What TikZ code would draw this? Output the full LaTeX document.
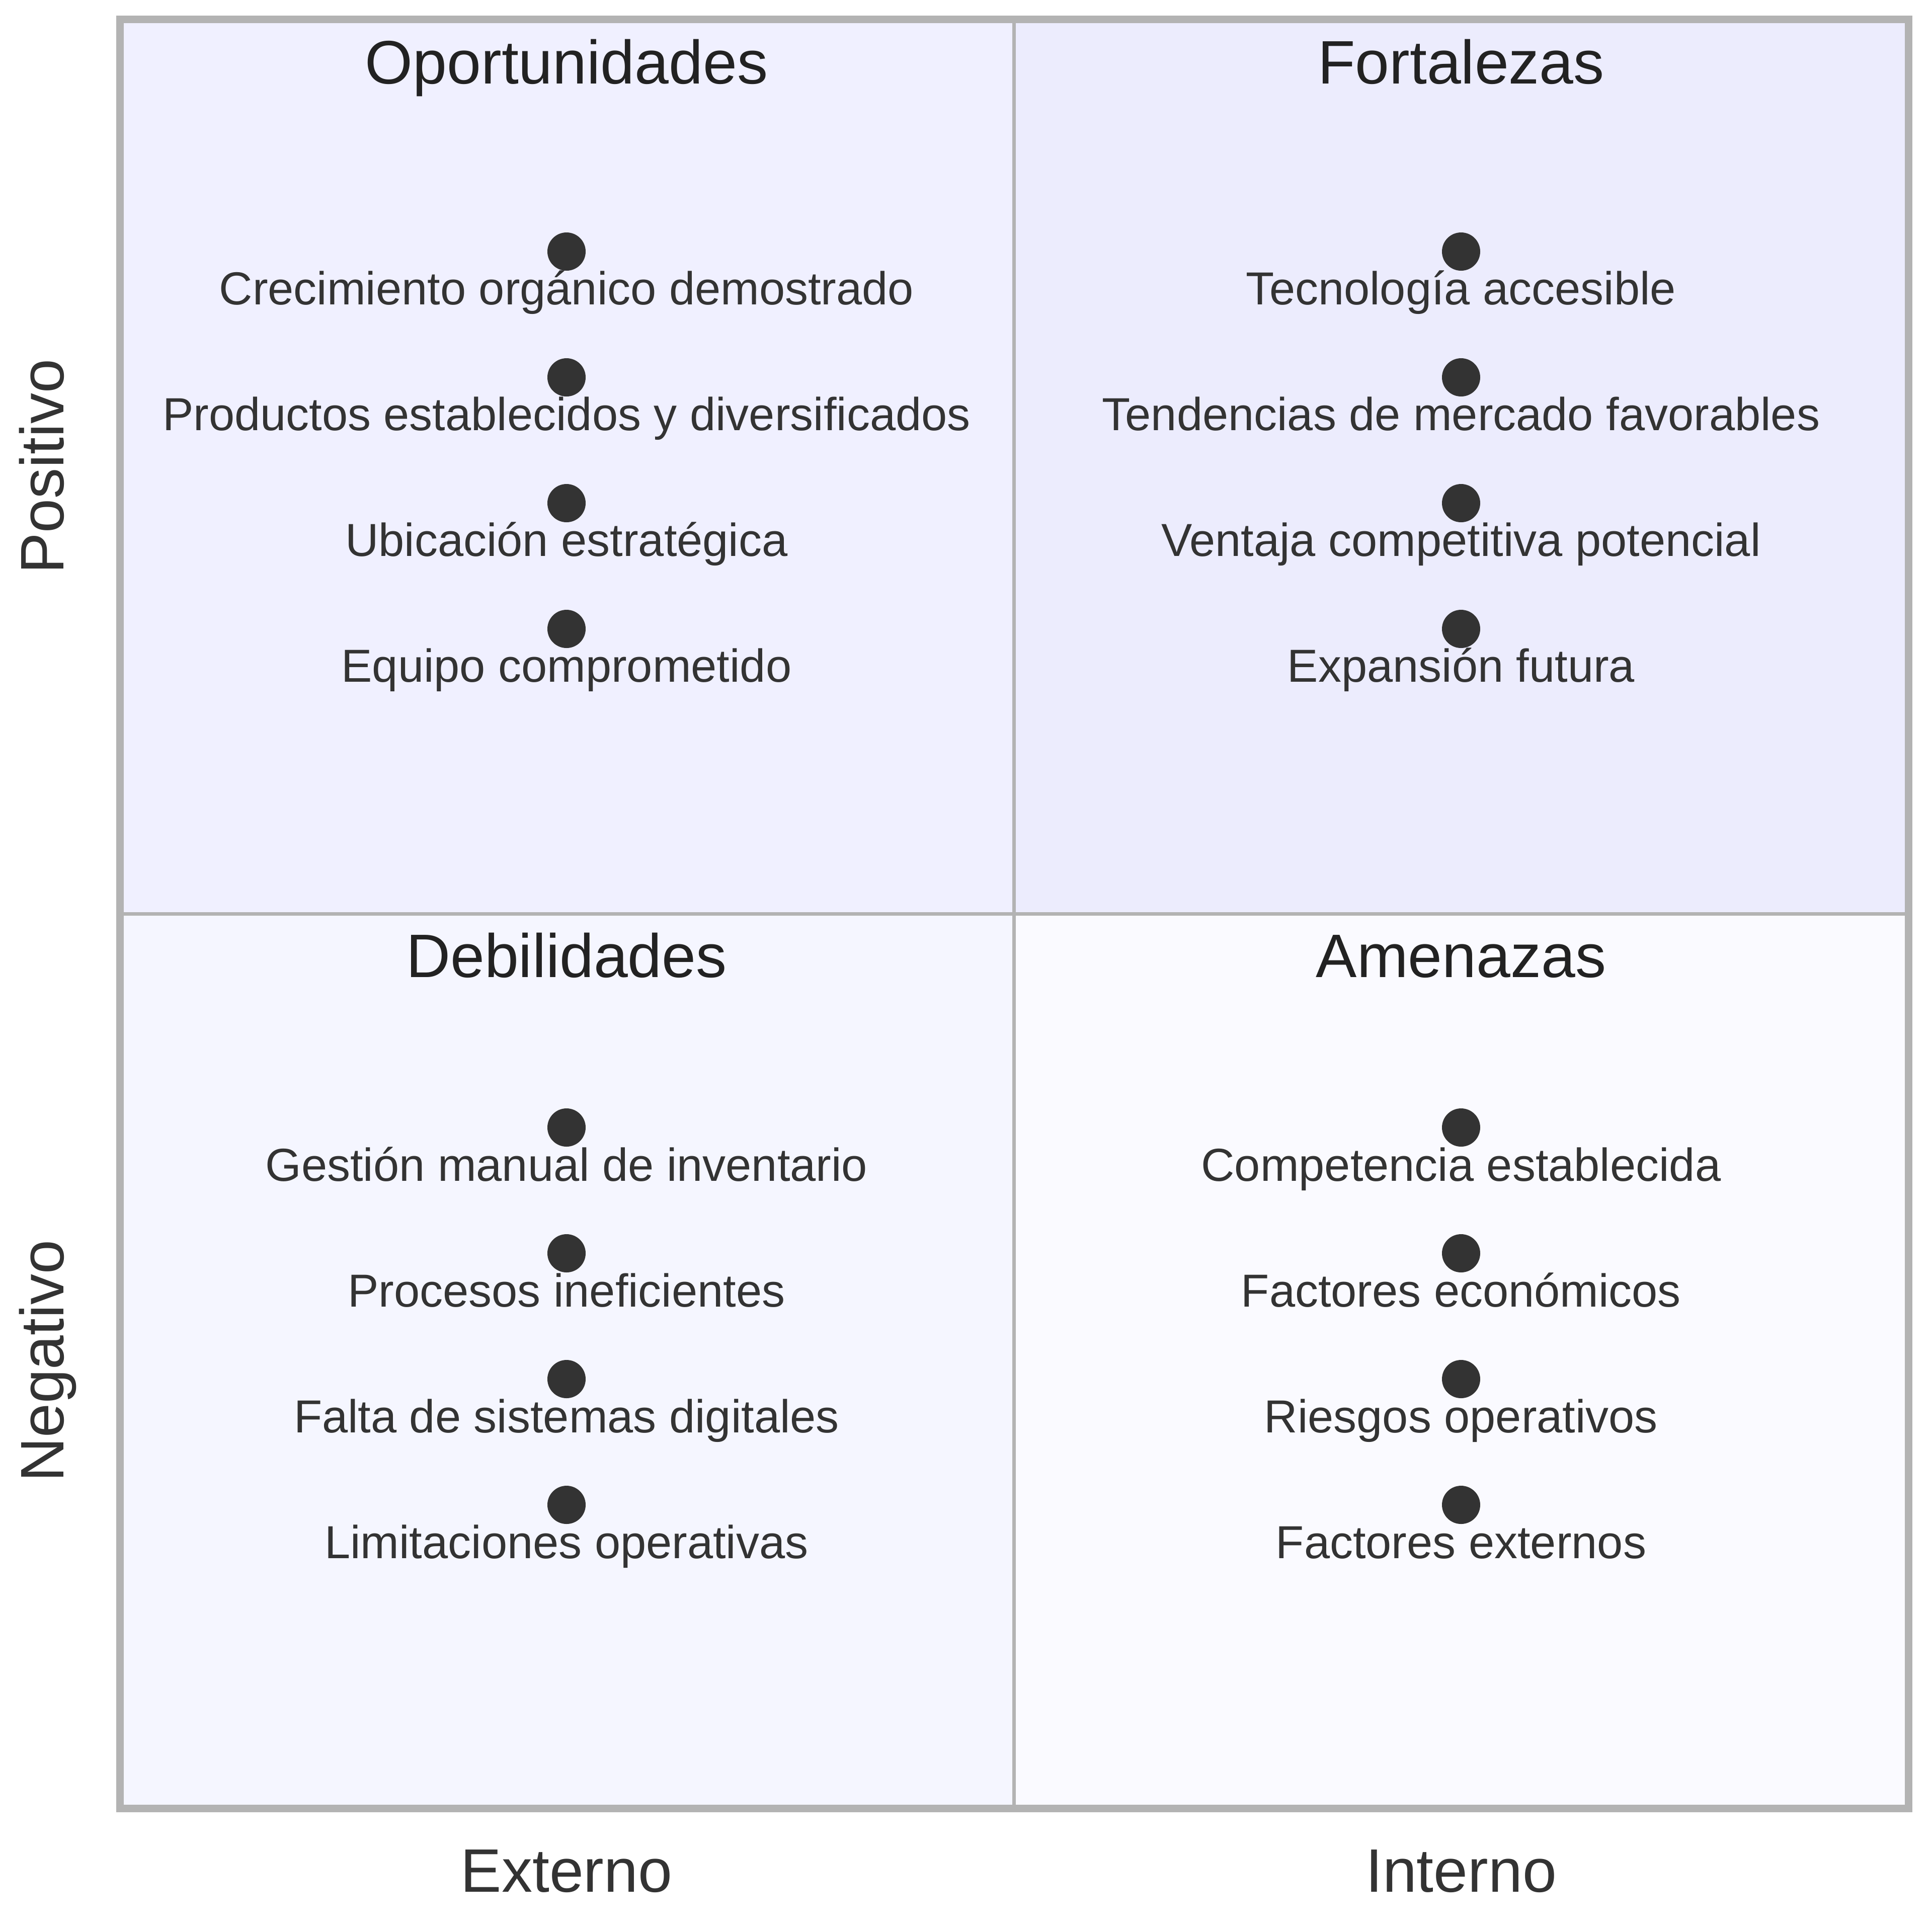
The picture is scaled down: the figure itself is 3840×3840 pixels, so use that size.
\documentclass[tikz,border=0pt]{standalone}
\usepackage{fontspec}
\setmainfont{Liberation Sans}
\usepackage{tikz}
\usetikzlibrary{positioning}
\usepackage{xcolor}
\definecolor{swgray}{HTML}{B3B3B3}
\definecolor{swtext}{HTML}{333333}
\definecolor{swtitle}{HTML}{222222}
\definecolor{oppfill}{HTML}{F0F0FF}
\definecolor{fortfill}{HTML}{ECECFD}
\definecolor{debfill}{HTML}{F5F6FF}
\definecolor{amefill}{HTML}{FAFAFF}
\tikzstyle{dot} = [circle,fill=swtext,inner sep=0pt,minimum size=7.6pt]
\tikzstyle{item} = [anchor=base,inner sep=0pt,text=swtext,font=\fontsize{9.2}{11}\selectfont]
\tikzstyle{quadtitle} = [anchor=base,inner sep=0pt,text=swtitle,font=\fontsize{12.2}{14}\selectfont]
\tikzstyle{axislabel} = [anchor=base,inner sep=0pt,text=swtext,font=\fontsize{12.2}{14}\selectfont]

\begin{document}
\begin{tikzpicture}[x=0.1pt,y=-0.1pt]
\useasboundingbox (0,0) rectangle (3840,3840);
% Quadrants
\fill[oppfill] (238,38) rectangle (2015,1816);
\fill[fortfill] (2015,38) rectangle (3793,1816);
\fill[debfill] (238,1816) rectangle (2015,3594);
\fill[amefill] (2015,1816) rectangle (3793,3594);
\draw[swgray, line width=0.7pt] (2015,38) -- (2015,3594);
\draw[swgray, line width=0.7pt] (238,1816) -- (3793,1816);
\draw[swgray, line width=1.5pt] (238,38) rectangle (3793,3594);

% Titles
\node[quadtitle] (opp) at (1126,166) {Oportunidades};
\node[quadtitle] (fort) at (2904,166) {Fortalezas};
\node[quadtitle] (deb) at (1126,1942) {Debilidades};
\node[quadtitle] (ame) at (2904,1942) {Amenazas};

% Oportunidades
\node[dot] (o1) at (1126,500) {};
\node[item] (o1t) at (1126,605) {Crecimiento orgánico demostrado};
\node[dot] (o2) at (1126,750) {};
\node[item] (o2t) at (1126,855) {Productos establecidos y diversificados};
\node[dot] (o3) at (1126,1000) {};
\node[item] (o3t) at (1126,1105) {Ubicación estratégica};
\node[dot] (o4) at (1126,1250) {};
\node[item] (o4t) at (1126,1355) {Equipo comprometido};

% Fortalezas
\node[dot] (f1) at (2904,500) {};
\node[item] (f1t) at (2904,605) {Tecnología accesible};
\node[dot] (f2) at (2904,750) {};
\node[item] (f2t) at (2904,855) {Tendencias de mercado favorables};
\node[dot] (f3) at (2904,1000) {};
\node[item] (f3t) at (2904,1105) {Ventaja competitiva potencial};
\node[dot] (f4) at (2904,1250) {};
\node[item] (f4t) at (2904,1355) {Expansión futura};

% Debilidades
\node[dot] (d1) at (1126,2241) {};
\node[item] (d1t) at (1126,2347) {Gestión manual de inventario};
\node[dot] (d2) at (1126,2491) {};
\node[item] (d2t) at (1126,2597) {Procesos ineficientes};
\node[dot] (d3) at (1126,2741) {};
\node[item] (d3t) at (1126,2847) {Falta de sistemas digitales};
\node[dot] (d4) at (1126,2991) {};
\node[item] (d4t) at (1126,3097) {Limitaciones operativas};

% Amenazas
\node[dot] (a1) at (2904,2241) {};
\node[item] (a1t) at (2904,2347) {Competencia establecida};
\node[dot] (a2) at (2904,2491) {};
\node[item] (a2t) at (2904,2597) {Factores económicos};
\node[dot] (a3) at (2904,2741) {};
\node[item] (a3t) at (2904,2847) {Riesgos operativos};
\node[dot] (a4) at (2904,2991) {};
\node[item] (a4t) at (2904,3097) {Factores externos};

% Axis labels
\node[axislabel] (ext) at (1126,3760) {Externo};
\node[axislabel] (int) at (2904,3760) {Interno};
\node[axislabel, rotate=90] (pos) at (127,927) {Positivo};
\node[axislabel, rotate=90] (neg) at (127,2705) {Negativo};
\end{tikzpicture}
\end{document}
